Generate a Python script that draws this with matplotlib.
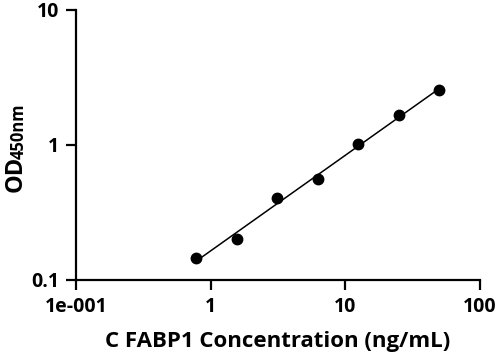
import numpy as np
from matplotlib import pyplot as plt

conc = [0.78, 1.56, 3.125, 6.25, 12.5, 25, 50]
od = [0.145, 0.201, 0.405, 0.56, 1.02, 1.66, 2.55]
xticks = [0.1, 1, 10, 100]
xticklabels = ['1e-001', '1', '10', '100']
yticks = [0.1, 1, 10]
yticklabels = ['0.1', '1', '10']

plt.rcParams['font.family'] = ['Open Sans', 'DejaVu Sans']
plt.rcParams['font.weight'] = 'bold'

fig = plt.figure(figsize=(4.99, 3.57), dpi=100)
ax = fig.add_axes([0.1523, 0.2157, 0.8097, 0.7563])

# linear fit in log-log space
lx = np.log10(conc)
ly = np.log10(od)
m, c = np.polyfit(lx, ly, 1)
fx = np.linspace(lx.min(), lx.max(), 100)
ax.plot(10 ** fx, 10 ** (c + m * fx), color='black', linewidth=1.1)
ax.plot(conc, od, 'o', color='black', markersize=7.5, clip_on=False)

ax.set_xscale('log')
ax.set_yscale('log')
ax.set_xlim(0.1, 100)
ax.set_ylim(0.1, 10)
ax.set_xticks(xticks)
ax.set_xticklabels(xticklabels)
ax.set_yticks(yticks)
ax.set_yticklabels(yticklabels)
ax.minorticks_off()
ax.tick_params(axis='both', which='major', length=7, width=1.6, labelsize=14, pad=5)
for s in ['top', 'right']:
    ax.spines[s].set_visible(False)
for s in ['left', 'bottom']:
    ax.spines[s].set_linewidth(1.6)

ax.set_xlabel('C FABP1 Concentration (ng/mL)', fontsize=16, fontweight='bold', labelpad=10)

# y label: large "OD" with smaller "450nm" right after it
t1 = fig.text(0.008, 0.462, 'OD', rotation=90, fontsize=17, fontweight='bold', ha='left', va='bottom')
fig.canvas.draw()
bb = t1.get_window_extent().transformed(fig.transFigure.inverted())
fig.text(0.02, bb.y1 - 0.01, '450nm', rotation=90, fontsize=12, fontweight='bold', ha='left', va='bottom')

fig.savefig('out.png', dpi=100)
